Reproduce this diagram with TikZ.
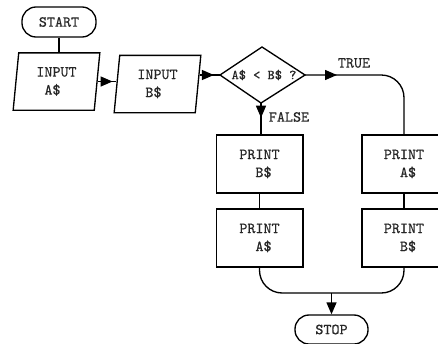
\documentclass[tikz,border=0pt]{standalone}
\usepackage{fontspec}
\newfontfamily\twfont{lmmono10-regular.otf}[FakeBold=0.5]
\usetikzlibrary{arrows.meta,shapes.geometric,decorations.markings,calc}
\begin{document}
\begin{tikzpicture}[x=0.75pt,y=-0.75pt,
  line/.style={line width=1pt, black},
  txt/.style={font=\twfont\fontsize{11.5}{13.5}\selectfont, text=black!85},
  term/.style={txt, draw, line width=1pt, rounded corners=10.5pt, inner sep=0pt},
  io/.style={txt, draw, line width=1pt, trapezium, trapezium left angle=79, trapezium right angle=101,
    trapezium stretches body, minimum width=65pt, minimum height=43pt, inner sep=0pt, align=left},
  box/.style={txt, draw, line width=1pt, minimum height=43.5pt, inner sep=0pt, align=left},
  dectxt/.style={font=\twfont\fontsize{10.3}{12}\selectfont, text=black!85, inner sep=0pt},
  lbl/.style={txt, inner sep=0pt},
  midarrow/.style={postaction={decorate},
    decoration={markings, mark=at position #1 with {\arrow{Triangle[length=9pt,width=7.5pt]}}}},
  endarrow/.style={-{Triangle[length=9pt,width=7.5pt]}}
]
\useasboundingbox (0,0) rectangle (438,343);

% nodes
\node[term, minimum width=55.5pt, minimum height=22.5pt] (start) at (59,22) {START};
\node[io] (inA) at (56.5,81.5) {INPUT\\\hphantom{I}A\$};
\node[io] (inB) at (157.5,84) {INPUT\\\hphantom{I}B\$};
\node[dectxt] (dec) at (264,75) {A\$ < B\$ ?};
\coordinate (decL) at (220,75);
\coordinate (decT) at (262,47);
\coordinate (decR) at (305,75);
\coordinate (decB) at (261,103);
\draw[line, line join=miter] (decL) -- (decT) -- (decR) -- (decB) -- cycle;

\node[box, minimum width=65pt] (pB1) at (259.5,164) {PRINT\\\hphantom{PR}B\$};
\node[box, minimum width=65pt] (pA1) at (259.5,238) {PRINT\\\hphantom{PR}A\$};
\node[box, minimum width=63pt] (pA2) at (404,164) {PRINT\\\hphantom{PR}A\$};
\node[box, minimum width=63pt] (pB2) at (404,238) {PRINT\\\hphantom{PR}B\$};
\node[term, minimum width=54.75pt, minimum height=21.75pt] (stop) at (331.5,329.5) {STOP};

\node[lbl] (ltrue) at (354,63) {TRUE};
\node[lbl] (lfalse) at (289,117) {FALSE};

% connectors
\draw[line] (start.south) -- (start.south |- inA.north);
\draw[line, midarrow=0.8] (inA.east) -- (inA.east -| inB.west);
\coordinate (inBout) at ($(inB.top right corner)!0.34!(inB.bottom right corner)$);
\draw[line, midarrow=0.7] (decL -| inBout) -- (decL);
\draw[line, rounded corners=17pt, midarrow=24pt] (decR) -| (pA2.north);
\draw[line, midarrow=0.47] (decB) -- (decB |- pB1.north);
\draw[line] (pB1.south) -- (pA1.north);
\draw[line] (pA2.south) -- (pB2.north);
\coordinate (mergeY) at (0,293);
\coordinate (merge) at (stop.north |- mergeY);
\draw[line, rounded corners=17pt] (pA1.south) |- (merge) -| (pB2.south);
\draw[line, endarrow] (merge) -- (stop.north);
\end{tikzpicture}
\end{document}
